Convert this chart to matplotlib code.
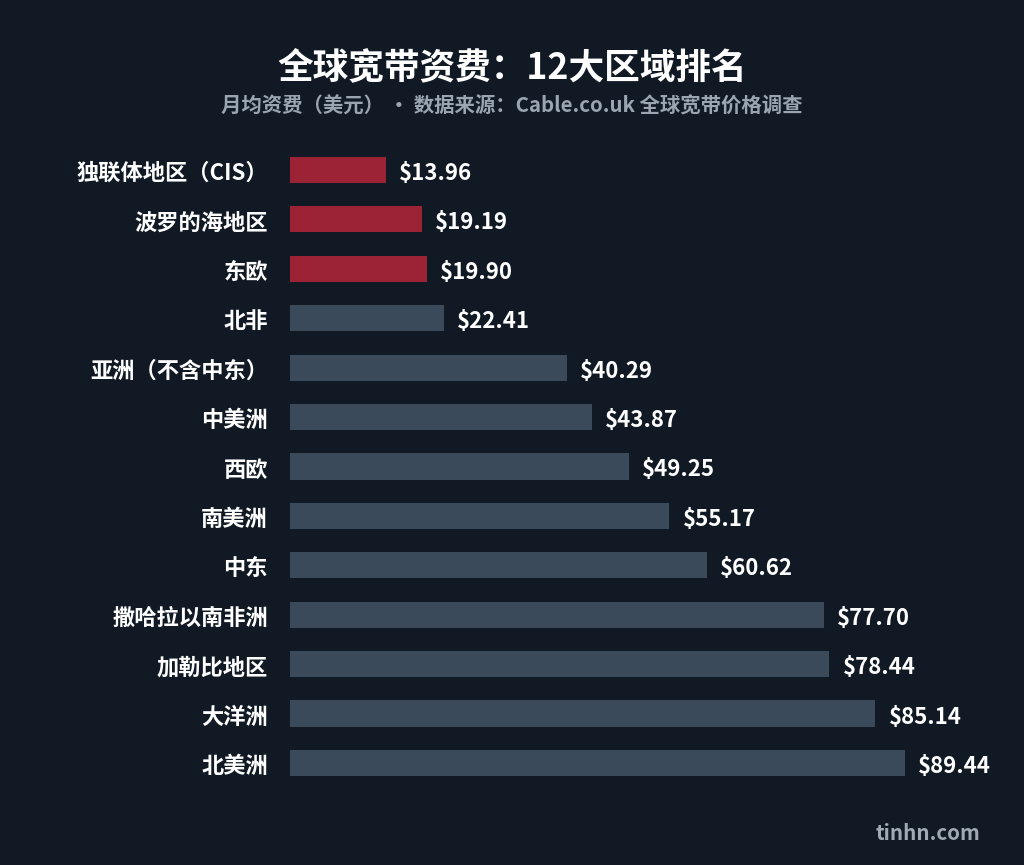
import matplotlib
matplotlib.use("Agg")
import matplotlib.pyplot as plt

plt.rcParams['font.family'] = ['Noto Sans CJK SC', 'DejaVu Sans']

regions = ["独联体地区（CIS）", "波罗的海地区", "东欧", "北非", "亚洲（不含中东）",
           "中美洲", "西欧", "南美洲", "中东", "撒哈拉以南非洲", "加勒比地区",
           "大洋洲", "北美洲"]
prices = [13.96, 19.19, 19.90, 22.41, 40.29, 43.87, 49.25, 55.17, 60.62,
          77.70, 78.44, 85.14, 89.44]
n_highlight = 3

bg = "#111a24"
red = "#9b2335"
gray = "#3b4a5a"

fig = plt.figure(figsize=(10.24, 8.65), dpi=100, facecolor=bg)
ax = fig.add_axes([290 / 1024, 0.0894, 710 / 1024, 0.7427], facecolor=bg)

colors = [red if i < n_highlight else gray for i in range(len(prices))]
ypos = list(range(len(prices)))
ax.barh(ypos, prices, height=0.53, color=colors)
ax.set_ylim(len(prices) - 0.5, -0.5)
ax.set_xlim(0, 710 / 6.876)

# labels sit a touch below the bar centre in the original
for y, v in zip(ypos, prices):
    ax.text(v + 1.9, y + 0.07, f"${v:.2f}", va="center", ha="left", color="white",
            fontsize=16, fontweight="bold")
    ax.text(-3.2, y + 0.07, regions[y], va="center", ha="right", color="white",
            fontsize=16, fontweight="bold")

ax.set_yticks([])
ax.set_xticks([])
for s in ax.spines.values():
    s.set_visible(False)

fig.text(0.5, 1 - 68 / 865, "全球宽带资费：12大区域排名", ha="center", va="center",
         color="white", fontsize=25.7, fontweight="bold")
fig.text(0.5, 1 - 106 / 865, "月均资费（美元） • 数据来源：Cable.co.uk 全球宽带价格调查",
         ha="center", va="center", color="#9aa5b1", fontsize=14.7, fontweight="bold")
fig.text(980 / 1024, 1 - 833 / 865, "tinhn.com", ha="right", va="center",
         color="#a0aab5", fontsize=14.8, fontweight="bold")

fig.savefig("out.png", dpi=100, facecolor=bg)
